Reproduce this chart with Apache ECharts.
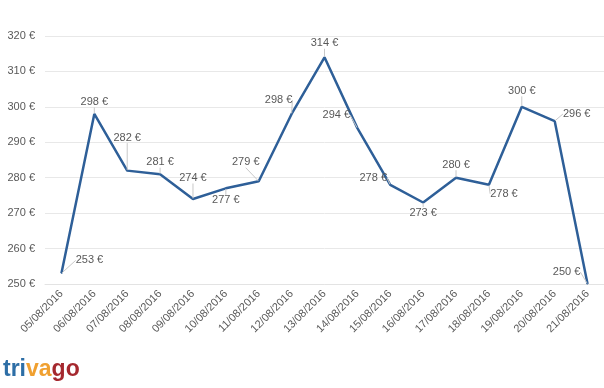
<!DOCTYPE html>
<html>
<head>
<meta charset="utf-8">
<script src="https://cdn.jsdelivr.net/npm/echarts@6/dist/echarts.min.js"></script>
<style>
  html, body { margin: 0; padding: 0; background: #fff; }
  #chart { width: 604px; height: 388px; }
</style>
</head>
<body>
<div id="chart"></div>
<script>
// dates and prices
const dates = ['05/08/2016', '06/08/2016', '07/08/2016', '08/08/2016', '09/08/2016',
    '10/08/2016', '11/08/2016', '12/08/2016', '13/08/2016', '14/08/2016', '15/08/2016',
    '16/08/2016', '17/08/2016', '18/08/2016', '19/08/2016', '20/08/2016', '21/08/2016'];
const prices = [253, 298, 282, 281, 274, 277, 279, 298, 314, 294, 278, 273, 280, 278, 300, 296, 250];
const yTicks = [250, 260, 270, 280, 290, 300, 310, 320];

// where each price label sits, relative to its point (dx, dy)
const labelShift = [
    [28, -13], [0, -12], [0, -33], [0, -12], [0, -21], [0, 12], [-13, -19], [-13, -14], [0, -14],
    [-21, -13], [-17, -7], [0, 10], [0, -13], [15, 9], [0, -16], [22, -7], [-21, -12]
];

var chart = echarts.init(document.getElementById('chart'));

var option = {
    animation: false,
    grid: { left: 45, top: 36, width: 564, height: 248 },
    xAxis: {
        type: 'category',
        data: dates,
        boundaryGap: true,
        axisLine: { show: true, lineStyle: { color: '#e3e3e3' } },
        axisTick: { show: false },
        axisLabel: {
            rotate: 45,
            interval: 0,
            margin: 8,
            color: '#595959',
            fontFamily: 'Liberation Sans',
            fontSize: 11
        }
    },
    yAxis: {
        type: 'value',
        min: yTicks[0],
        max: yTicks[yTicks.length - 1],
        interval: 10,
        axisLine: { show: false },
        axisTick: { show: false },
        splitLine: { lineStyle: { color: '#e8e8e8' } },
        axisLabel: {
            margin: 10,
            color: '#595959',
            fontFamily: 'Liberation Sans',
            fontSize: 11,
            formatter: function (v) { return v + ' €'; }
        }
    },
    series: [{
        type: 'line',
        data: prices,
        symbol: 'circle',
        symbolSize: 1,
        showSymbol: true,
        lineStyle: { color: '#2e5f98', width: 2.5 },
        itemStyle: { color: '#2e5f98' },
        label: {
            show: true,
            position: 'inside',
            color: '#595959',
            fontFamily: 'Liberation Sans',
            fontSize: 11,
            formatter: function (p) { return p.value + ' €'; }
        },
        labelLine: { show: true, lineStyle: { color: '#c8c8c8', width: 1 } },
        labelLayout: function (p) {
            var s = labelShift[p.dataIndex];
            return { dx: s[0], dy: s[1] };
        }
    }],
    graphic: [{
        type: 'text',
        left: 3,
        top: 358,
        style: {
            text: '{a|tri}{b|va}{c|go}',
            rich: {
                a: { fill: '#2d6ea6', fontSize: 23, fontWeight: 'bold', fontFamily: 'Liberation Sans' },
                b: { fill: '#f0a030', fontSize: 23, fontWeight: 'bold', fontFamily: 'Liberation Sans' },
                c: { fill: '#a5282e', fontSize: 23, fontWeight: 'bold', fontFamily: 'Liberation Sans' }
            }
        }
    }]
};

chart.setOption(option);
</script>
</body>
</html>
